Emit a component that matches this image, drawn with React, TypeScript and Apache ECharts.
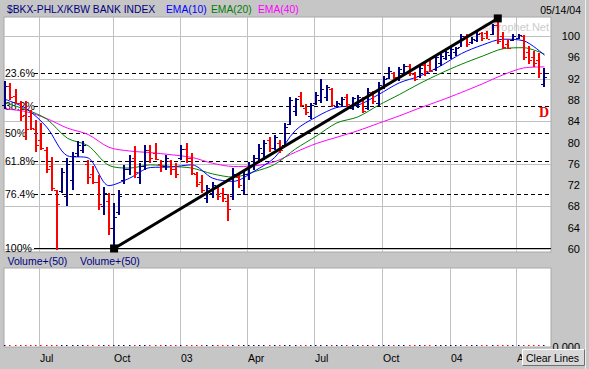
import React, { useEffect, useRef } from "react";
import * as echarts from "echarts";

// ---------- data (weekly bars, BKX index) ----------
const opens = [
  87.0, 90.6, 88.8, 87.4, 85.2, 85.0, 82.5, 80.5, 78.5, 75.5,
  71.0, 70.8, 70.0, 73.0, 78.0, 78.5, 76.0, 74.0, 72.5, 68.0,
  69.0, 64.0, 67.0, 73.0, 75.0, 77.0, 73.5, 75.5, 78.5, 78.0,
  76.0, 75.5, 76.5, 75.0, 77.0, 78.8, 77.0, 74.0, 72.5, 69.5,
  70.5, 71.5, 70.5, 69.0, 70.0, 73.5, 71.0, 74.0, 75.5, 77.0,
  78.0, 80.5, 79.0, 80.0, 79.5, 83.5, 86.0, 88.8, 86.5, 85.0,
  87.5, 88.0, 88.5, 90.0, 86.8, 87.2, 88.5, 86.5, 87.0, 88.0,
  86.5, 89.5, 87.5, 90.5, 92.2, 93.0, 92.0, 93.0, 94.3, 92.8,
  92.5, 94.5, 94.5, 93.8, 95.0, 95.8, 96.5, 97.0, 98.0, 100.0,
  98.8, 99.2, 100.5, 100.5, 100.3, 102.0, 100.0, 98.5, 99.3, 99.6,
  100.0, 97.0, 96.0, 95.5, 91.0,
];
const highs = [
  91.6, 91.1, 90.0, 87.8, 87.7, 86.1, 84.2, 83.6, 79.2, 77.3,
  71.1, 75.2, 77.0, 78.3, 80.2, 80.2, 76.7, 75.5, 73.9, 71.7,
  70.5, 68.6, 71.1, 75.8, 77.7, 79.3, 76.1, 79.5, 79.5, 79.9,
  76.7, 77.7, 76.7, 76.1, 79.5, 79.9, 78.0, 74.4, 73.9, 72.0,
  72.6, 72.0, 71.4, 70.4, 75.2, 73.9, 74.8, 76.4, 77.7, 79.8,
  80.5, 81.1, 81.4, 80.5, 83.6, 88.6, 88.3, 89.5, 87.2, 87.4,
  89.5, 92.0, 90.8, 90.2, 87.7, 88.6, 89.2, 88.6, 88.9, 88.6,
  90.2, 89.7, 91.3, 92.5, 94.1, 93.2, 94.1, 94.7, 94.7, 93.2,
  94.4, 95.0, 95.4, 96.3, 96.6, 97.2, 98.2, 97.9, 100.4, 100.4,
  99.8, 100.7, 100.7, 101.0, 102.3, 103.3, 100.7, 99.4, 100.4, 100.4,
  100.1, 98.2, 97.2, 96.9, 94.0,
];
const lows = [
  86.2, 88.0, 87.2, 84.0, 80.5, 82.4, 78.3, 78.6, 74.2, 70.8,
  59.8, 70.5, 68.1, 71.1, 77.3, 78.0, 72.3, 72.3, 67.3, 66.4,
  62.6, 60.1, 66.4, 72.3, 73.9, 73.3, 72.3, 74.8, 76.1, 76.7,
  74.5, 74.8, 73.9, 73.3, 76.7, 76.1, 73.9, 71.7, 70.5, 68.6,
  69.5, 69.2, 68.9, 65.2, 69.2, 71.4, 70.1, 73.0, 74.8, 76.1,
  76.7, 78.3, 78.6, 78.0, 79.2, 83.3, 84.9, 86.7, 85.2, 84.5,
  87.0, 87.4, 87.7, 86.7, 86.4, 86.7, 86.7, 86.1, 86.5, 85.5,
  86.1, 87.2, 86.9, 90.0, 91.9, 91.9, 91.6, 92.5, 92.5, 91.6,
  92.2, 92.5, 93.2, 93.5, 94.4, 95.4, 95.7, 96.3, 97.9, 97.9,
  98.5, 98.8, 99.1, 99.4, 100.1, 98.5, 97.6, 97.6, 99.1, 99.4,
  95.4, 94.7, 94.1, 92.2, 90.4,
];
const closes = [
  90.6, 88.6, 87.5, 85.0, 82.5, 82.8, 79.5, 79.0, 75.0, 71.5,
  68.5, 74.5, 76.0, 77.5, 79.5, 79.6, 73.5, 72.5, 68.5, 70.5,
  64.0, 66.0, 70.0, 75.0, 76.5, 74.5, 75.5, 78.5, 77.0, 76.9,
  75.5, 77.0, 75.0, 74.0, 78.8, 77.0, 74.3, 72.3, 71.0, 71.5,
  72.0, 70.0, 69.5, 67.5, 74.0, 72.0, 74.0, 75.8, 77.0, 79.0,
  80.0, 79.0, 81.0, 78.5, 83.0, 88.0, 88.2, 87.0, 85.8, 87.0,
  89.0, 90.0, 90.5, 87.0, 87.5, 88.2, 87.2, 88.3, 88.5, 86.0,
  89.5, 87.8, 90.8, 92.0, 93.5, 92.3, 93.8, 94.3, 93.0, 92.0,
  94.0, 93.5, 93.4, 96.0, 96.3, 97.0, 97.6, 97.8, 100.0, 98.5,
  99.5, 100.3, 99.6, 99.5, 102.0, 99.0, 98.0, 97.8, 100.0, 100.1,
  96.0, 95.5, 95.0, 93.0, 92.3,
];

// EMA readings, sampled every 4th week
const emaIdx = [0, 4, 8, 12, 16, 20, 24, 28, 32, 36, 40, 44, 48, 52, 56, 60, 64, 68, 72, 76, 80, 84, 88, 92, 96, 100, 104];
const ema10 = [88.1, 86.4, 82.9, 77.5, 77.1, 71.9, 73.3, 75.3, 75.4, 75.8, 73.3, 72.7, 74.6, 77.2, 82.3, 84.8, 86.6, 87.0, 89.0, 91.2, 92.5, 94.4, 96.7, 98.3, 99.4, 99.1, 96.4];
const ema20 = [87.4, 86.2, 84.4, 80.8, 79.4, 75.7, 75.2, 75.8, 75.5, 75.2, 74.1, 73.5, 74.5, 75.9, 78.8, 81.2, 83.7, 84.8, 87.0, 89.0, 91.1, 93.0, 94.7, 96.2, 97.6, 97.8, 96.6];
const ema40 = [86.3, 85.8, 84.5, 82.7, 81.5, 79.1, 78.4, 78.1, 77.7, 77.2, 76.1, 75.5, 75.6, 76.4, 78.2, 79.8, 81.0, 82.2, 83.6, 85.0, 86.5, 87.9, 89.4, 91.0, 92.7, 94.0, 94.2];

// swing points for trendline / fibonacci
const lowIdx = 21;
const lowVal = 60.1;
const highIdx = 95;
const highVal = 103.3;
const fibPcts = [0.236, 0.382, 0.5, 0.618, 0.764, 1];
const fibLabels = ["23.6%", "38.2%", "50%", "61.8%", "76.4%", "100%"];

// axes
const gridLevels = [60, 68, 76, 84, 92, 100];
const monthIdx = [6.6, 20.7, 33.7, 46.6, 59.6, 72.6, 85.7, 98.6];
const monthLabels = ["Jul", "Oct", "03", "Apr", "Jul", "Oct", "04", "A"];
const priceLabelMin = 56;
const priceLabelMax = 104;
const priceLabelStep = 4;

// ---------- layout ----------
const W = 589;
const H = 369;
const BAR0_X = 5.2;
const BAR_DX = 5.185;
const PLOT_L = 4;
const PLOT_R = 551;
const MAIN_TOP = 17;
const MAIN_BOTTOM = 252;
const Y100 = 36;
const PX_PER_UNIT = 5.325;
const VOL_TOP = 268;
const VOL_BOTTOM = 347;

const FONT = '"Liberation Sans", Arial, sans-serif';
const NAVY = "#000080";
const RED = "#ff0000";
const GRIDC = "#c0c0c0";

const xMin = (PLOT_L - BAR0_X) / BAR_DX;
const xMax = (PLOT_R - BAR0_X) / BAR_DX;
const yMax = 100 + (Y100 - MAIN_TOP) / PX_PER_UNIT;
const yMin = 100 - (MAIN_BOTTOM - Y100) / PX_PER_UNIT;
const labelTop = Y100 - (priceLabelMax - 100) * PX_PER_UNIT;
const labelHeight = (priceLabelMax - priceLabelMin) * PX_PER_UNIT;

function txt(text: string, x: number, y: number, fill: string, size = 10.5, align = "left", extra: any = {}) {
  return {
    type: "text",
    x,
    y,
    z: 20,
    style: { text, fill, fontSize: size, fontFamily: FONT, align, verticalAlign: "middle", ...extra },
  };
}

export default function App() {
  const ref = useRef<HTMLDivElement>(null);

  useEffect(() => {
    if (!ref.current) return;
    const chart = echarts.init(ref.current, null, { renderer: "svg" });

    const barData = opens.map((o, i) => [i, o, highs[i], lows[i], closes[i]]);
    const fibData = fibPcts.map((p) => [0, highVal - p * (highVal - lowVal)]);
    const hGridData = gridLevels.map((v) => [0, v]);
    const vGridData = monthIdx.map((v) => [v, 0]);

    const vGridRender = (withLabels: boolean) => (params: any, api: any) => {
      const cs = params.coordSys;
      const x = Math.round(api.coord([api.value(0), 0])[0]) + 0.5;
      const children: any[] = [
        {
          type: "line",
          shape: { x1: x, y1: cs.y, x2: x, y2: cs.y + cs.height },
          style: { stroke: GRIDC, lineWidth: 1 },
        },
      ];
      if (withLabels) {
        children.push({
          type: "text",
          x: x + 0.5,
          y: cs.y + cs.height + 11,
          style: { text: monthLabels[params.dataIndex], fill: "#000", fontSize: 10.5, fontFamily: FONT, align: "left", verticalAlign: "middle" },
        });
      }
      return { type: "group", children };
    };

    const option: any = {
      animation: false,
      backgroundColor: "#c6c6c6",
      grid: [
        { left: PLOT_L, top: MAIN_TOP, width: PLOT_R - PLOT_L, height: MAIN_BOTTOM - MAIN_TOP, show: true, backgroundColor: "#ffffff", borderColor: "#a8a8a8", borderWidth: 1, outerBoundsMode: "none", containLabel: false },
        { left: PLOT_L, top: VOL_TOP, width: PLOT_R - PLOT_L, height: VOL_BOTTOM - VOL_TOP, show: true, backgroundColor: "#ffffff", borderColor: "#a8a8a8", borderWidth: 1, outerBoundsMode: "none", containLabel: false },
        { left: PLOT_L, top: labelTop, width: PLOT_R - PLOT_L, height: labelHeight, show: false, outerBoundsMode: "none", containLabel: false },
      ],
      xAxis: [
        { gridIndex: 0, type: "value", min: xMin, max: xMax, show: false },
        { gridIndex: 1, type: "value", min: xMin, max: xMax, show: false },
        { gridIndex: 2, type: "value", min: xMin, max: xMax, show: false },
      ],
      yAxis: [
        { gridIndex: 0, type: "value", min: yMin, max: yMax, show: false },
        {
          gridIndex: 1,
          type: "value",
          min: 0,
          max: 1,
          interval: 1,
          position: "right",
          axisLine: { show: false },
          axisTick: { show: false },
          splitLine: { show: false },
          axisLabel: {
            align: "right",
            margin: 29,
            color: "#000",
            fontSize: 11,
            fontFamily: FONT,
            formatter: (v: number) => (v === 0 ? "0.000" : ""),
          },
        },
        {
          gridIndex: 2,
          type: "value",
          min: priceLabelMin,
          max: priceLabelMax,
          interval: priceLabelStep,
          position: "right",
          axisLine: { show: false },
          axisTick: { show: false },
          splitLine: { show: false },
          axisLabel: {
            align: "right",
            margin: 29,
            color: "#000",
            fontSize: 11,
            fontFamily: FONT,
            showMinLabel: false,
            showMaxLabel: false,
            formatter: (v: number) => (v >= 60 && v <= 100 ? String(v) : ""),
          },
        },
      ],
      series: [
        // horizontal grid lines
        {
          type: "custom",
          xAxisIndex: 0,
          yAxisIndex: 0,
          z: 1,
          silent: true,
          data: hGridData,
          renderItem: (params: any, api: any) => {
            const cs = params.coordSys;
            const y = Math.round(api.coord([0, api.value(1)])[1]) + 0.5;
            return { type: "line", shape: { x1: cs.x, y1: y, x2: cs.x + cs.width, y2: y }, style: { stroke: GRIDC, lineWidth: 1 } };
          },
        },
        // vertical grid lines, price panel
        { type: "custom", xAxisIndex: 0, yAxisIndex: 0, z: 1, silent: true, data: vGridData, renderItem: vGridRender(false) },
        // vertical grid lines + month labels, volume panel
        { type: "custom", xAxisIndex: 1, yAxisIndex: 1, z: 1, silent: true, clip: false, data: vGridData, renderItem: vGridRender(true) },
        // fibonacci levels
        {
          type: "custom",
          xAxisIndex: 0,
          yAxisIndex: 0,
          z: 2,
          silent: true,
          clip: false,
          data: fibData,
          renderItem: (params: any, api: any) => {
            const cs = params.coordSys;
            const yv = api.coord([0, api.value(1)])[1];
            const y = Math.round(yv) + 0.5;
            const solid = fibPcts[params.dataIndex] === 1;
            return {
              type: "group",
              children: [
                {
                  type: "line",
                  shape: { x1: cs.x + 30, y1: y, x2: cs.x + cs.width, y2: y },
                  style: { stroke: "#000", lineWidth: 1, lineDash: solid ? null : [4, 3] },
                },
                {
                  type: "text",
                  x: cs.x + 1,
                  y: y - 0.5,
                  style: { text: fibLabels[params.dataIndex], fill: "#000", fontSize: 10.5, fontFamily: FONT, align: "left", verticalAlign: "middle" },
                },
              ],
            };
          },
        },
        // EMAs
        {
          type: "line",
          xAxisIndex: 0,
          yAxisIndex: 0,
          z: 3,
          data: emaIdx.map((ix, k) => [ix, ema40[k]]),
          showSymbol: false,
          smooth: 0.3,
          lineStyle: { color: "#ff00ff", width: 1 },
          silent: true,
        },
        {
          type: "line",
          xAxisIndex: 0,
          yAxisIndex: 0,
          z: 3,
          data: emaIdx.map((ix, k) => [ix, ema20[k]]),
          showSymbol: false,
          smooth: 0.3,
          lineStyle: { color: "#008000", width: 1 },
          silent: true,
        },
        {
          type: "line",
          xAxisIndex: 0,
          yAxisIndex: 0,
          z: 3,
          data: emaIdx.map((ix, k) => [ix, ema10[k]]),
          showSymbol: false,
          smooth: 0.3,
          lineStyle: { color: "#0000ff", width: 1 },
          silent: true,
        },
        // OHLC bars
        {
          type: "custom",
          xAxisIndex: 0,
          yAxisIndex: 0,
          z: 4,
          silent: true,
          clip: false,
          data: barData,
          renderItem: (params: any, api: any) => {
            const i = api.value(0);
            const o = api.value(1);
            const h = api.value(2);
            const l = api.value(3);
            const c = api.value(4);
            const pH = api.coord([i, h]);
            const x = Math.round(pH[0]);
            const yH = Math.round(pH[1]);
            const yL = Math.round(api.coord([i, l])[1]);
            const yO = Math.round(api.coord([i, o])[1]);
            const yC = Math.round(api.coord([i, c])[1]);
            const col = c >= o ? NAVY : RED;
            return {
              type: "group",
              children: [
                { type: "rect", shape: { x: x - 1, y: yH, width: 2, height: Math.max(1, yL - yH) }, style: { fill: col } },
                { type: "rect", shape: { x: x - 3, y: yO, width: 2, height: 1 }, style: { fill: col } },
                { type: "rect", shape: { x: x + 1, y: yC, width: 2, height: 1 }, style: { fill: col } },
              ],
            };
          },
        },
        // volume baseline dots
        {
          type: "custom",
          xAxisIndex: 1,
          yAxisIndex: 1,
          z: 4,
          silent: true,
          clip: false,
          data: barData,
          renderItem: (params: any, api: any) => {
            const i = api.value(0);
            const p = api.coord([i, 0]);
            const col = api.value(4) >= api.value(1) ? NAVY : RED;
            return { type: "rect", shape: { x: Math.round(p[0]) - 1, y: Math.round(p[1]) - 2, width: 1.5, height: 1 }, style: { fill: col } };
          },
        },
        // trendline
        {
          type: "line",
          xAxisIndex: 0,
          yAxisIndex: 0,
          z: 5,
          clip: false,
          silent: true,
          data: [
            [lowIdx, lowVal],
            [highIdx, highVal],
          ],
          symbol: "rect",
          symbolSize: 8,
          showSymbol: true,
          itemStyle: { color: "#000" },
          lineStyle: { color: "#000", width: 3 },
        },
      ],
      graphic: [
        // watermark
        {
          type: "text",
          x: 549,
          y: 27,
          z: 1,
          style: { text: "\u00a9Prophet.Net", fill: "#cccccc", fontSize: 11, fontFamily: FONT, align: "right", verticalAlign: "middle" },
        },
        txt("$BKX-PHLX/KBW BANK INDEX", 7, 9.5, NAVY, 10.3),
        txt("EMA(10)", 166, 9.5, "#0000ff", 10.3),
        txt("EMA(20)", 211, 9.5, "#008000", 10.3),
        txt("EMA(40)", 258, 9.5, "#ff00ff", 10.3),
        txt("05/14/04", 581, 9.5, "#000", 10.5, "right"),
        txt("Volume+(50)", 7.5, 261, NAVY, 10.5),
        txt("Volume+(50)", 80, 261, NAVY, 10.5),
        {
          type: "text",
          x: 544,
          y: 112,
          z: 20,
          style: { text: "D", fill: "#ee0000", fontSize: 14, fontWeight: "bold", fontFamily: '"Liberation Serif", "Times New Roman", serif', align: "center", verticalAlign: "middle" },
        },
        // right frame line
        {
          type: "line",
          z: 20,
          shape: { x1: 585.5, y1: 0, x2: 585.5, y2: H },
          style: { stroke: "#eeeeee", lineWidth: 1 },
        },
        // Clear Lines button
        {
          type: "group",
          z: 30,
          children: [
            { type: "rect", z: 30, shape: { x: 522, y: 349, width: 63, height: 17 }, style: { fill: "#d8d8d8" } },
            { type: "polyline", z: 31, shape: { points: [[522.5, 365.5], [522.5, 349.5], [584.5, 349.5]] }, style: { stroke: "#ffffff", fill: "none", lineWidth: 1 } },
            { type: "polyline", z: 31, shape: { points: [[522.5, 365.5], [584.5, 365.5], [584.5, 349.5]] }, style: { stroke: "#707070", fill: "none", lineWidth: 1 } },
            { type: "text", z: 32, x: 526, y: 357.5, style: { text: "Clear Lines", fill: "#000", fontSize: 10.5, fontFamily: FONT, align: "left", verticalAlign: "middle" } },
          ],
        },
      ],
    };

    chart.setOption(option);
    return () => {
      chart.dispose();
    };
  }, []);

  return <div ref={ref} style={{ position: "absolute", left: 0, top: 0, width: W, height: H }} />;
}
